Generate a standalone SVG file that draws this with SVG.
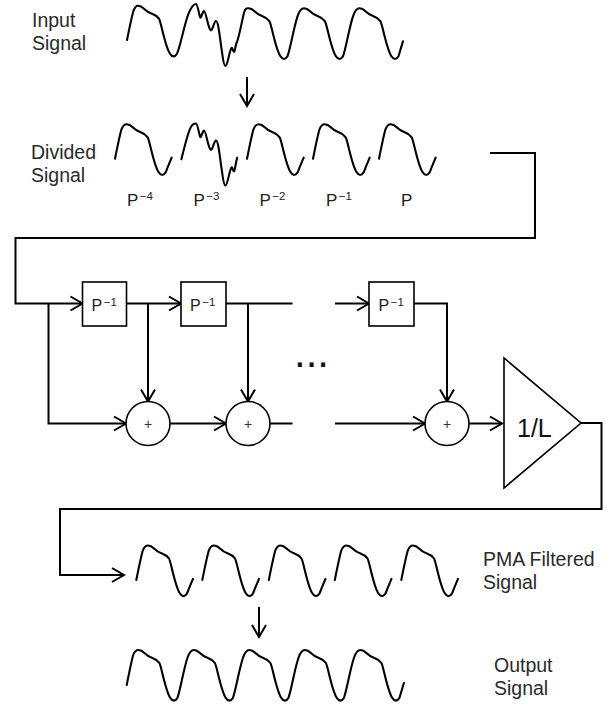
<svg xmlns="http://www.w3.org/2000/svg" xmlns:xlink="http://www.w3.org/1999/xlink" width="608" height="709" viewBox="0 0 608 709">
<style>
.wave{fill:none;stroke:#000;stroke-width:2.1;stroke-linejoin:round;stroke-linecap:round}
.conn{fill:none;stroke:#000;stroke-width:2}
.arrow{marker-end:url(#arr)}
.box{fill:#fff;stroke:#000;stroke-width:1.6}
.lbl{font-family:"Liberation Sans",Arial,sans-serif;font-size:19.5px;fill:#2a2a2a}
.plbl{font-family:"Liberation Sans",Arial,sans-serif;font-size:17px;fill:#222}
.blbl{font-family:"Liberation Sans",Arial,sans-serif;font-size:16px;fill:#222}
.sup{font-size:11.5px}
.plus{font-family:"Liberation Sans",Arial,sans-serif;font-size:14px;fill:#333;text-anchor:middle}
.gain{font-family:"Liberation Sans",Arial,sans-serif;font-size:25px;fill:#111}
</style>
<defs>
<marker id="arr" viewBox="-14 -9 16 18" markerWidth="16" markerHeight="18" refX="0" refY="0" orient="auto" markerUnits="userSpaceOnUse">
<path d="M-12,-7 L0,0 L-12,7" fill="none" stroke="#000" stroke-width="2"/>
</marker>
<path id="hump" d="M-11.7,34.5 c2,-10 5,-24.5 6.5,-29.5 c1.5,-4 3.5,-5 5.2,-5 c2,0 4,1 6,3 c2,2 5,4 8,5 c3,1 5,2 7,5 c2,3 6,28 11,35 c2,3.5 5,3.5 7,0 c2,-5 4,-10 6,-14.6"/>
</defs>
<rect width="608" height="709" fill="#fff"/>

<g id="input-signal">
<text class="lbl" x="32" y="27">Input</text>
<text class="lbl" x="32" y="50">Signal</text>
<path class="wave" d="M127,40 c2,-10 5,-24.3 6.5,-29.3 c1.5,-4 3,-5 4.5,-5
c2,0 4,1 6,3 c2,2 5,4 8,5 c3,1 5,2 7,5 c2,3 6,28 11,35 c2,3.5 5,3.5 7,0 c3.5,-8 7,-28 11.5,-40 c2.5,-6 5,-9.7 7.5,-9.7
C197.5,4 198.5,12 200,17 C201,20 202.5,11 204,11 C206,11 208,28 210.5,30 C212.5,32 214,21 216,21 C218.5,21 220,40 222,52 C223,60 224,66 225.5,66 C227.5,66 229.5,50 231.5,48 C232.5,47 233,52 234,52 C235,52 235.5,44 237,42 C240,34 243,14 245,10 C246,8 247,8.3 248.5,8.3
c2,0 4,1 6,3 c2,2 5,4 8,5 c3,1 5,2 7,5 c2,3 6,28 11,35 c2,3.5 5,3.5 7,0 c3,-8 6,-28 10,-40 c2,-6 4,-8 6.5,-8
c2,0 4,1 6,3 c2,2 5,4 8,5 c3,1 5,2 7,5 c2,3 6,28 11,35 c2,3.5 5,3.5 7,0 c3,-8 6,-28 10,-40 c2,-6 4,-8 6.5,-8
c2,0 4,1 6,3 c2,2 5,4 8,5 c3,1 5,2 7,5 c2,3 6,28 11,35 c2,3.5 5,3.5 7,0 c1.5,-5 3,-10.5 4.5,-15"/>
</g>

<g id="divided-signal">
<text class="lbl" x="31" y="159">Divided</text>
<text class="lbl" x="31" y="182">Signal</text>
<use xlink:href="#hump" class="wave" x="126.7" y="124.3"/>
<path class="wave" d="M181.4,159.3 C184,149 188,131 191.5,126 C193,123.5 194.5,123.5 196,123.5 C197.5,123.5 198.5,131.5 200,136.5 C201,139.5 202.5,130.5 204,130.5 C206,130.5 208,147.5 210.5,149.5 C212.5,151.5 214,140.5 216,140.5 C218.5,140.5 220,159.5 222,171.5 C223,179.5 224,185.5 225.5,185.5 C227.5,185.5 229.5,169.5 231.5,167.5 C232.5,166.5 233,171.5 234,171.5 C235,171.5 235.5,163 237.2,157.7"/>
<use xlink:href="#hump" class="wave" x="258.7" y="124.3"/>
<use xlink:href="#hump" class="wave" x="324.7" y="124.3"/>
<use xlink:href="#hump" class="wave" x="390.7" y="124.3"/>
<text class="plbl" x="127" y="205.5">P<tspan class="sup" dx="1.5" dy="-6">−4</tspan></text>
<text class="plbl" x="193.5" y="205.5">P<tspan class="sup" dx="1.5" dy="-6">−3</tspan></text>
<text class="plbl" x="259.5" y="205.5">P<tspan class="sup" dx="1.5" dy="-6">−2</tspan></text>
<text class="plbl" x="326" y="205.5">P<tspan class="sup" dx="1.5" dy="-6">−1</tspan></text>
<text class="plbl" x="401" y="205.5">P</text>
</g>

<g id="connectors">
<line class="conn arrow" x1="247" y1="77" x2="247" y2="106"/>
<polyline class="conn arrow" points="490,153 535,153 535,238 15.5,238 15.5,303.5 82.5,303.5"/>
<line class="conn arrow" x1="126.5" y1="303.5" x2="181" y2="303.5"/>
<line class="conn arrow" x1="148" y1="303.5" x2="148" y2="401.5"/>
<line class="conn" x1="226" y1="303.5" x2="292.5" y2="303.5"/>
<line class="conn arrow" x1="248" y1="303.5" x2="248" y2="401.5"/>
<line class="conn arrow" x1="335" y1="303.5" x2="369" y2="303.5"/>
<polyline class="conn arrow" points="414,303.5 447,303.5 447,401.5"/>
<polyline class="conn arrow" points="48.5,303.5 48.5,423.5 126,423.5"/>
<line class="conn arrow" x1="170" y1="423.5" x2="226" y2="423.5"/>
<line class="conn" x1="270" y1="423.5" x2="292.5" y2="423.5"/>
<line class="conn arrow" x1="335" y1="423.5" x2="425" y2="423.5"/>
<line class="conn arrow" x1="469" y1="423.5" x2="502" y2="423.5"/>
<polyline class="conn arrow" points="581,423 601.5,423 601.5,509 60,509 60,575 124,575"/>
<line class="conn arrow" x1="259" y1="607" x2="259" y2="637"/>
</g>

<g id="delay1">
<rect class="box" x="82.5" y="282" width="44" height="44"/>
<text class="blbl" x="91.5" y="311">P<tspan class="sup" dx="1.5" dy="-5.5">−1</tspan></text>
</g>
<g id="delay2">
<rect class="box" x="181" y="282" width="45" height="44"/>
<text class="blbl" x="190" y="311">P<tspan class="sup" dx="1.5" dy="-5.5">−1</tspan></text>
</g>
<g id="delay3">
<rect class="box" x="369" y="282" width="45" height="44"/>
<text class="blbl" x="378.5" y="311">P<tspan class="sup" dx="1.5" dy="-5.5">−1</tspan></text>
</g>
<g id="ellipsis">
<text font-family="Liberation Sans, Arial, sans-serif" font-size="42" fill="#111" x="294" y="366.5">...</text>
</g>
<g id="sum1">
<circle class="box" cx="148" cy="423.5" r="22"/>
<text class="plus" x="148" y="428.5">+</text>
</g>
<g id="sum2">
<circle class="box" cx="248" cy="423.5" r="22"/>
<text class="plus" x="248" y="428.5">+</text>
</g>
<g id="sum3">
<circle class="box" cx="447" cy="423.5" r="22"/>
<text class="plus" x="447" y="428.5">+</text>
</g>
<g id="gain">
<polygon class="box" points="504,358 504,488 581,423"/>
<text class="gain" x="517" y="437">1/L</text>
</g>

<g id="pma-filtered-signal">
<use xlink:href="#hump" class="wave" x="148" y="545.5"/>
<use xlink:href="#hump" class="wave" x="214" y="545.5"/>
<use xlink:href="#hump" class="wave" x="280.5" y="545.5"/>
<use xlink:href="#hump" class="wave" x="346.5" y="545.5"/>
<use xlink:href="#hump" class="wave" x="413" y="545.5"/>
<text class="lbl" x="483" y="566">PMA Filtered</text>
<text class="lbl" x="483" y="589">Signal</text>
</g>

<g id="output-signal">
<path class="wave" d="M126.7,685 c2,-10 5,-25 6.5,-30 c1.5,-4 3.5,-5 5.2,-5
c2,0 4,1 6,3 c2,2 5,4 8,5 c3,1 5,2 7,5 c2,3 6,28 11,35 c2,3.5 5,3.5 7,0 c3,-8 6,-28 10,-40 c2,-6 4,-8 6.5,-8
c2,0 4,1 6,3 c2,2 5,4 8,5 c3,1 5,2 7,5 c2,3 6,28 11,35 c2,3.5 5,3.5 7,0 c3,-8 6,-28 10,-40 c2,-6 4,-8 6.5,-8
c2,0 4,1 6,3 c2,2 5,4 8,5 c3,1 5,2 7,5 c2,3 6,28 11,35 c2,3.5 5,3.5 7,0 c3,-8 6,-28 10,-40 c2,-6 4,-8 6.5,-8
c2,0 4,1 6,3 c2,2 5,4 8,5 c3,1 5,2 7,5 c2,3 6,28 11,35 c2,3.5 5,3.5 7,0 c3,-8 6,-28 10,-40 c2,-6 4,-8 6.5,-8
c2,0 4,1 6,3 c2,2 5,4 8,5 c3,1 5,2 7,5 c2,3 6,28 11,35 c2,3.5 5,3.5 7,0 c1.5,-5 3,-10 4.5,-15"/>
<text class="lbl" x="494" y="672">Output</text>
<text class="lbl" x="494" y="695">Signal</text>
</g>
</svg>
